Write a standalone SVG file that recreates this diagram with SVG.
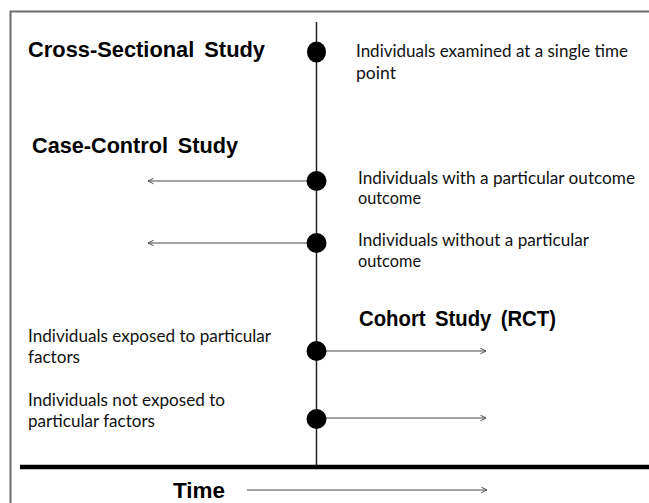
<svg xmlns="http://www.w3.org/2000/svg" width="649" height="503" viewBox="0 0 649 503">
<style>
.frame{fill:none;stroke:#6b6b6b;stroke-width:2}
.axis{stroke:#222;stroke-width:1.5;fill:none}
.base{stroke:#000;stroke-width:4.5}
.arrow{stroke:#4a4a4a;stroke-width:1.2;fill:none;marker-end:url(#head)}
.dot{fill:#000}
.h{font-family:"Liberation Sans",Arial,sans-serif;font-weight:bold;font-size:22.5px;fill:#000;word-spacing:4px}
.t{font-family:Lato,"Liberation Sans",sans-serif;font-size:17.5px;fill:#111}
</style>
<defs>
<marker id="head" viewBox="0 0 10 10" refX="9" refY="5" markerWidth="7" markerHeight="7" markerUnits="userSpaceOnUse" orient="auto">
<path d="M1,1 L9,5 L1,9" fill="none" stroke="#4a4a4a" stroke-width="1.4"/>
</marker>
</defs>
<rect width="649" height="503" fill="#fff"/>
<path class="frame" d="M10.5,503 V11.5 H649"/>
<g id="connectors">
<line class="axis" x1="316.5" y1="22" x2="316.5" y2="467"/>
<line class="base" x1="20" y1="467" x2="649" y2="467"/>
<line class="arrow" x1="316" y1="181" x2="148" y2="181"/>
<line class="arrow" x1="316" y1="243" x2="148" y2="243"/>
<line class="arrow" x1="316" y1="351" x2="486" y2="351"/>
<line class="arrow" x1="316" y1="418" x2="486" y2="418"/>
<line class="arrow" x1="247" y1="490" x2="487" y2="490"/>
</g>
<g id="cross-sectional">
<text class="h" x="28" y="57" textLength="237" lengthAdjust="spacingAndGlyphs">Cross-Sectional Study</text>
<ellipse class="dot" cx="316.5" cy="52" rx="9.5" ry="10.5"/>
<text class="t" x="356" y="57" textLength="272" lengthAdjust="spacingAndGlyphs">Individuals examined at a single time</text>
<text class="t" x="356" y="79" textLength="40" lengthAdjust="spacingAndGlyphs">point</text>
</g>
<g id="case-control">
<text class="h" x="32" y="153" textLength="206" lengthAdjust="spacingAndGlyphs">Case-Control Study</text>
</g>
<g id="with-outcome">
<circle class="dot" cx="316.5" cy="181" r="10"/>
<text class="t" x="358" y="184" textLength="277" lengthAdjust="spacingAndGlyphs">Individuals with a particular outcome</text>
<text class="t" x="358" y="204" textLength="63" lengthAdjust="spacingAndGlyphs">outcome</text>
</g>
<g id="without-outcome">
<circle class="dot" cx="316.5" cy="243" r="10"/>
<text class="t" x="358" y="246" textLength="231" lengthAdjust="spacingAndGlyphs">Individuals without a particular</text>
<text class="t" x="358" y="267" textLength="63" lengthAdjust="spacingAndGlyphs">outcome</text>
</g>
<g id="cohort">
<text class="h" x="359" y="326" textLength="197" lengthAdjust="spacingAndGlyphs">Cohort Study (RCT)</text>
</g>
<g id="exposed">
<circle class="dot" cx="316.5" cy="351" r="10"/>
<text class="t" x="28" y="342" textLength="243" lengthAdjust="spacingAndGlyphs">Individuals exposed to particular</text>
<text class="t" x="28" y="363" textLength="52" lengthAdjust="spacingAndGlyphs">factors</text>
</g>
<g id="not-exposed">
<circle class="dot" cx="316.5" cy="419" r="10"/>
<text class="t" x="28" y="406" textLength="197" lengthAdjust="spacingAndGlyphs">Individuals not exposed to</text>
<text class="t" x="28" y="427" textLength="127" lengthAdjust="spacingAndGlyphs">particular factors</text>
</g>
<g id="time">
<text class="h" x="173" y="498" textLength="52" lengthAdjust="spacingAndGlyphs">Time</text>
</g>
</svg>
